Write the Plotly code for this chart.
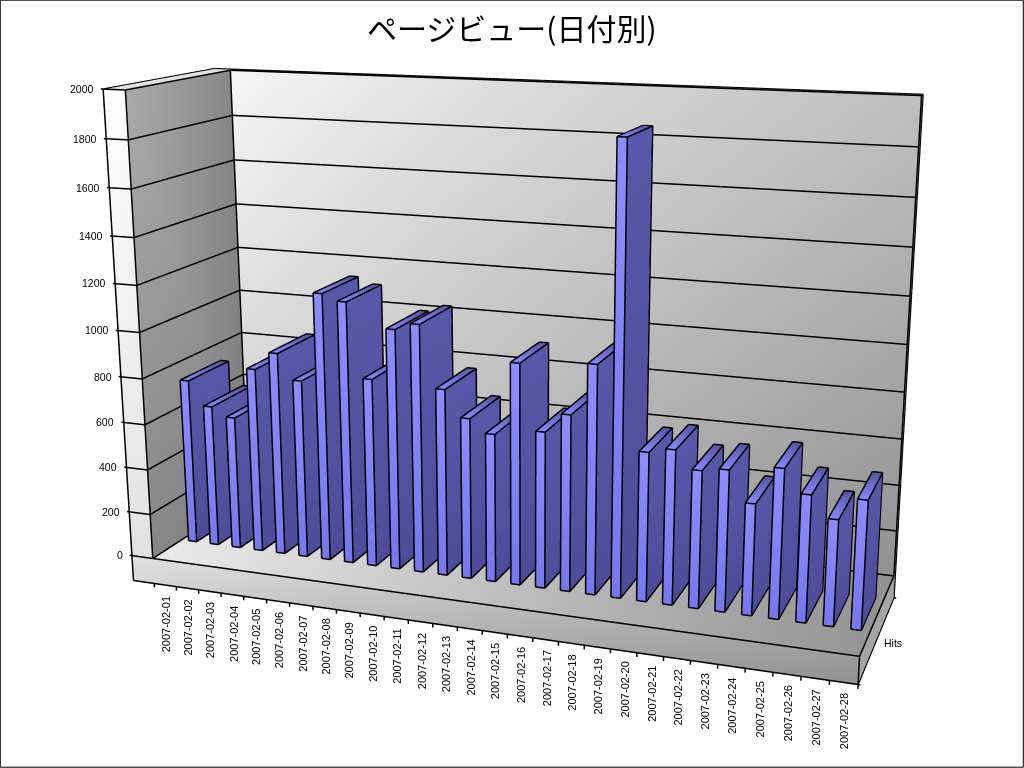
import numpy as np
import plotly.graph_objects as go

TITLE = "ページビュー(日付別)"
DATES = ["2007-02-%02d" % d for d in range(1, 29)]
VALUES = [735,629,590,815,894,784,1168,1141,821,1042,1072,808,695,639,948,671,754,972,1871,632,654,580,595,468,625,530,442,534]
Z_TICKS = [0,200,400,600,800,1000,1200,1400,1600,1800,2000]
SERIES_LABEL = "Hits"

# solid model of the chart box, in data units
xL=-0.45; xB=0.5; xR=28.5; ZS=-115
YF=0.2832; YB=0.6923; BW=0.1873
XRANGE=(-0.9,28.6); YRANGE=(-0.02,1.06); ZRANGE=(-135,2010)

# camera; the reference has a much narrower lens than plotly's fixed 45 degrees,
# so the figure is drawn larger than the window and the window looks at its middle
EYE=(1.16,-3.125,0.855); CENTER=(0.04416,0.006957,-0.04906); UP=(0.0001905,0.0005049,1.0)
ASPECT=(1.489,0.4354,1.0)
S=1.929; OX=-460.8; OY=-363.7
W=int(round(1024*S)); H=int(round(768*S))

lo_=np.array([XRANGE[0],YRANGE[0],ZRANGE[0]]);hi_=np.array([XRANGE[1],YRANGE[1],ZRANGE[1]])
EYE_DATA=np.array(EYE)/np.array(ASPECT)*(hi_-lo_)+(lo_+hi_)/2
def nudge(a):
    a=np.asarray(a,float); return a+(EYE_DATA-a)*0.0015

vx,vy,vz,ii,jj,kk,vc=[],[],[],[],[],[],[]
def quad(c, cols):
    n=len(vx)
    for pt,cl in zip(c,cols):
        vx.append(pt[0]);vy.append(pt[1]);vz.append(pt[2]);vc.append(cl)
    ii.extend([n,n]);jj.extend([n+1,n+2]);kk.extend([n+2,n+3])
g=lambda v:"rgb(%d,%d,%d)"%(v,v,v)
quad([(xB,1,2000),(xR,1,2000),(xR,1,0),(xB,1,0)],[g(245),g(190),g(145),g(205)])
quad([(xL,1.05,2000),(xR,1.05,2000),(xR,1,2000),(xL,1,2000)],[g(215)]*2+[g(190)]*2)
quad([(xR,1,2000),(xR,1.05,2000),(xR,1.05,ZS),(xR,1,ZS)],[g(130)]*4)
quad([(xB,0,2000),(xB,1,2000),(xB,1,0),(xB,0,0)],[g(170),g(135),g(125),g(135)])
quad([(xL,0,2000),(xL,1.05,2000),(xB,1.05,2000),(xB,0,2000)],[g(225)]*4)
quad([(xL,0,2000),(xB,0,2000),(xB,0,0),(xL,0,0)],[g(255),g(250),g(225),g(225)])
quad([(xL,0,0),(xR,0,0),(xR,0,ZS),(xL,0,ZS)],[g(225),g(155),g(145),g(215)])
quad([(xB,0,0),(xR,0,0),(xR,1,0),(xB,1,0)],[g(235),g(150),g(145),g(225)])
quad([(xR,0,0),(xR,1.05,0),(xR,1.05,ZS),(xR,0,ZS)],[g(165)]*4)

lx,ly,lz=[],[],[]
def seg(a,b):
    a=nudge(a);b=nudge(b)
    lx.extend([a[0],b[0],None]);ly.extend([a[1],b[1],None]);lz.extend([a[2],b[2],None])

for i,v in enumerate(VALUES):
    x0,x1=i+1-BW,i+1+BW
    quad([(x0,YF,v),(x1,YF,v),(x1,YF,0),(x0,YF,0)],["#8C8CFF","#8C8CFF","#7777EE","#7777EE"])
    quad([(x1,YF,v),(x1,YB,v),(x1,YB,0),(x1,YF,0)],["#5858AA","#5858AA","#4C4C98","#4C4C98"])
    quad([(x0,YB,v),(x1,YB,v),(x1,YF,v),(x0,YF,v)],["#5555A0","#5555A0","#8888FF","#8888FF"])
    for a,b in [((x0,YF,v),(x1,YF,v)),((x1,YF,v),(x1,YB,v)),((x1,YB,v),(x0,YB,v)),((x0,YB,v),(x0,YF,v)),
                ((x0,YF,v),(x0,YF,0)),((x1,YF,v),(x1,YF,0)),((x1,YB,v),(x1,YB,0)),
                ((x0,YF,0),(x1,YF,0)),((x1,YF,0),(x1,YB,0))]:
        seg(a,b)
for z in Z_TICKS:
    seg((xL-0.1,0,z),(xL,0,z)); seg((xL,0,z),(xB,0,z)); seg((xB,0,z),(xB,1,z)); seg((xB,1,z),(xR,1,z))
for a,b in [((xL,0,2000),(xL,0,ZS)),((xL,0,ZS),(xR,0,ZS)),((xR,0,ZS),(xR,0,0)),((xB,0,0),(xR,0,0)),((xB,0,0),(xB,0,2000)),
            ((xB,0,2000),(xB,1,2000)),((xB,1,2000),(xB,1,0)),((xR,1,2000),(xR,1,0)),((xR,0,0),(xR,1,0)),((xR,0,ZS),(xR,1.05,ZS)),
            ((xR,1.05,ZS),(xR,1.05,2000)),((xR,1.05,2000),(xL,1.05,2000)),((xL,1.05,2000),(xL,0,2000)),((xL,0,2000),(xB,0,2000)),((xR,1,2000),(xR,1.05,2000)),
            ((xR,0,ZS),(xR+0.09,0,ZS)),((xR,1.05,ZS),(xR+0.09,1.05,ZS))]:
    seg(a,b)
for i in range(29):
    seg((i+0.5,0,ZS),(i+0.5,0,ZS-18))

fig=go.Figure()
fig.add_trace(go.Mesh3d(x=vx,y=vy,z=vz,i=ii,j=jj,k=kk,vertexcolor=vc,flatshading=True,hoverinfo="skip",
    lighting=dict(ambient=1,diffuse=0,specular=0,roughness=1,fresnel=0),showscale=False))
fig.add_trace(go.Scatter3d(x=lx,y=ly,z=lz,mode="lines",line=dict(color="black",width=3),hoverinfo="skip",showlegend=False))

ann=[]
FONT=dict(family="Liberation Sans",size=10.5,color="black")
DFONT=dict(family="Liberation Sans",size=11,color="black")
for i,d in enumerate(DATES):
    ann.append(dict(x=i+1,y=0,z=ZS,text=d,textangle=-90,showarrow=False,xanchor="center",yanchor="top",yshift=-9,xshift=1,font=DFONT))
for z in Z_TICKS:
    ann.append(dict(x=xL-0.1,y=0,z=z,text=str(z),showarrow=False,xanchor="right",xshift=-5,font=FONT))
ann.append(dict(x=xR,y=0.5,z=ZS,text=SERIES_LABEL,showarrow=False,xanchor="left",xshift=6,yshift=-2,font=FONT))

ax=lambda r:dict(range=list(r),autorange=False,showgrid=False,showline=False,showticklabels=False,zeroline=False,showspikes=False,showbackground=False,ticks="",title=dict(text=""))
px=lambda w:(w-OX)/W
py=lambda w:1-(w-OY)/H
fig.update_layout(width=W,height=H,margin=dict(l=0,r=0,t=0,b=0),paper_bgcolor="white",showlegend=False,
    title=dict(text=TITLE,x=px(512),xanchor="center",y=py(29.5),yanchor="middle",font=dict(family="Noto Sans CJK JP",size=30,color="black")),
    scene=dict(domain=dict(x=[0,1],y=[0,1]),xaxis=ax(XRANGE),yaxis=ax(YRANGE),zaxis=ax(ZRANGE),aspectmode="manual",
        aspectratio=dict(x=ASPECT[0],y=ASPECT[1],z=ASPECT[2]),
        camera=dict(eye=dict(x=EYE[0],y=EYE[1],z=EYE[2]),center=dict(x=CENTER[0],y=CENTER[1],z=CENTER[2]),up=dict(x=UP[0],y=UP[1],z=UP[2]),projection=dict(type="perspective")),
        annotations=ann),
    shapes=[dict(type="rect",xref="paper",yref="paper",x0=px(0.5),x1=px(1023.5),y0=py(767.5),y1=py(0.5),line=dict(color="black",width=1))])
fig.write_html("out.html",config=dict(displayModeBar=False),post_script="document.body.style.margin='0';document.body.style.overflow='hidden';var g=document.getElementsByClassName('plotly-graph-div')[0];g.style.position='absolute';g.style.left='%dpx';g.style.top='%dpx';"%(round(OX),round(OY)))
